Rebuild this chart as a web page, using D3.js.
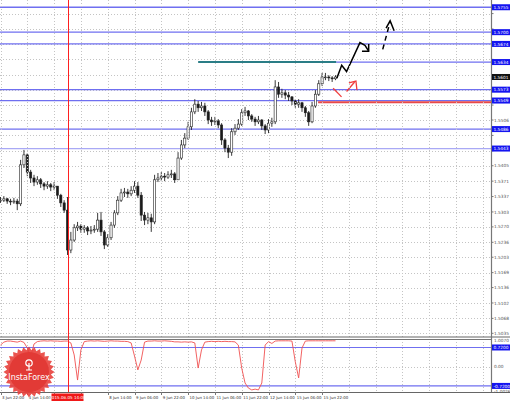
<!DOCTYPE html>
<html><head><meta charset="utf-8">
<script src="https://cdn.jsdelivr.net/npm/d3@7"></script>
<style>body{margin:0;background:#fff}svg{display:block}text{font-family:"DejaVu Sans",sans-serif}</style>
</head><body><svg id="c" width="510" height="402"></svg>
<script>
// ---- DATA (2-hour bars, GBP/USD) ----
const firstOpen = 1.5327;
const closes = [1.5329,1.5332,1.5327,1.5325,1.5327,1.5321,1.5407,1.5429,1.5391,1.5378,
1.5369,1.5374,1.5365,1.5360,1.5363,1.5358,1.5360,1.5340,1.5323,1.5307,
1.5219,1.5241,1.5268,1.5272,1.5265,1.5268,1.5261,1.5263,1.5265,1.5285,
1.5259,1.5230,1.5246,1.5274,1.5301,1.5329,1.5345,1.5347,1.5343,1.5351,
1.5360,1.5340,1.5296,1.5285,1.5290,1.5281,1.5374,1.5378,1.5382,1.5380,
1.5385,1.5387,1.5374,1.5422,1.5451,1.5466,1.5491,1.5524,1.5541,1.5533,
1.5537,1.5524,1.5506,1.5502,1.5504,1.5495,1.5462,1.5444,1.5435,1.5480,
1.5488,1.5497,1.5522,1.5526,1.5515,1.5508,1.5502,1.5506,1.5493,1.5484,
1.5499,1.5502,1.5579,1.5563,1.5566,1.5561,1.5557,1.5548,1.5541,1.5544,
1.5533,1.5522,1.5502,1.5537,1.5563,1.5586,1.5601,1.5601,1.5599,1.5597,1.5601];
const highs = [1.5336,1.5338,1.5334,1.5332,1.5334,1.5332,1.5418,1.5440,1.5433,1.5396,
1.5385,1.5382,1.5378,1.5369,1.5371,1.5367,1.5369,1.5360,1.5343,1.5329,
1.5336,1.5259,1.5276,1.5281,1.5276,1.5274,1.5272,1.5272,1.5274,1.5301,
1.5303,1.5263,1.5254,1.5281,1.5307,1.5338,1.5354,1.5356,1.5354,1.5360,
1.5371,1.5369,1.5347,1.5303,1.5301,1.5299,1.5385,1.5389,1.5391,1.5389,
1.5393,1.5396,1.5391,1.5435,1.5462,1.5477,1.5502,1.5533,1.5552,1.5548,
1.5546,1.5544,1.5528,1.5513,1.5513,1.5508,1.5499,1.5466,1.5451,1.5488,
1.5497,1.5508,1.5530,1.5535,1.5528,1.5519,1.5513,1.5515,1.5508,1.5497,
1.5508,1.5511,1.5594,1.5590,1.5575,1.5572,1.5568,1.5559,1.5552,1.5552,
1.5546,1.5537,1.5526,1.5546,1.5572,1.5594,1.5610,1.5610,1.5605,1.5603,1.5605];
const lows = [1.5323,1.5325,1.5321,1.5318,1.5321,1.5307,1.5316,1.5400,1.5382,1.5367,
1.5360,1.5363,1.5356,1.5351,1.5354,1.5349,1.5351,1.5332,1.5314,1.5301,
1.5208,1.5212,1.5237,1.5261,1.5257,1.5257,1.5252,1.5254,1.5257,1.5259,
1.5250,1.5221,1.5226,1.5241,1.5268,1.5296,1.5325,1.5336,1.5334,1.5338,
1.5345,1.5334,1.5283,1.5274,1.5276,1.5259,1.5276,1.5369,1.5371,1.5371,
1.5376,1.5378,1.5367,1.5391,1.5418,1.5444,1.5462,1.5484,1.5519,1.5524,
1.5526,1.5515,1.5497,1.5493,1.5495,1.5488,1.5451,1.5435,1.5422,1.5427,
1.5473,1.5484,1.5493,1.5515,1.5506,1.5502,1.5493,1.5497,1.5484,1.5475,
1.5477,1.5491,1.5497,1.5555,1.5555,1.5552,1.5548,1.5539,1.5533,1.5533,
1.5524,1.5513,1.5493,1.5499,1.5533,1.5559,1.5581,1.5594,1.5592,1.5590,1.5594];
const indicator = [0.81,0.92,0.96,0.96,0.94,0.92,0.96,0.91,0.70,0.37,
0.85,0.94,0.96,0.97,0.96,0.97,0.96,0.96,0.95,0.96,
0.96,0.89,0.44,-0.50,0.63,0.94,0.96,0.97,0.96,0.97,
0.96,0.95,0.96,0.97,0.96,0.96,0.95,0.95,0.94,0.89,
0.40,-0.12,0.25,0.92,0.96,0.96,0.97,0.96,0.96,0.97,
0.96,0.95,0.93,0.93,0.92,0.93,0.92,0.93,0.89,-0.05,
0.63,0.92,0.94,0.95,0.94,0.95,0.94,0.95,0.94,0.94,
0.93,0.81,-0.05,-0.61,-0.80,-0.87,-0.84,-0.87,-0.61,0.81,
0.94,0.87,0.96,0.97,0.97,0.97,0.97,0.96,0.18,-0.42,
0.70,0.96,0.97,0.97,0.97,0.97,0.97,0.97,0.97,0.97,0.97];
const timeLabels = ["3 Jun 22:00","4 Jun 14:00","5 Jun 06:00","5 Jun 22:00","8 Jun 14:00","9 Jun 06:00","9 Jun 22:00","10 Jun 14:00","11 Jun 06:00","11 Jun 22:00","12 Jun 14:00","15 Jun 06:00","15 Jun 22:00"];
const barsPerLabel = 8;
const markerBar = 20;
const markerLabel = "2015.06.05 14:00";
const priceTicks = [1.5741,1.5707,1.5674,1.5640,1.5606,1.5573,1.5539,1.5506,1.5472,1.5438,1.5405,1.5371,1.5337,1.5303,1.5270,1.5236,1.5203,1.5169,1.5136,1.5102,1.5068,1.5035];
const levelPrices = [1.5755,1.5700,1.5674,1.5634,1.5573,1.5549,1.5486,1.5443];
const levelFrom   = [null,null,null,100.2,null,null,null,null];
const trendSeg = {from:59, to:100.2, price:1.5634};
const supportSeg = {from:94.8, price:1.5545};
const fcSolid = [[100.4,1.5598],[101.85,1.5627],[103.3,1.5613],[107.3,1.5677],[108.8,1.5671],[109.9,1.5658]];
const fcSolidHead = [[109.9,1.5674],[109.9,1.5658],[107.9,1.5658]];
const fcDashed = [[114.1,1.5662],[116.3,1.5723]];
const fcDashedHead = [[115.1,1.5709],[116.3,1.5725],[117.5,1.5703]];
const fcRed1 = [[99.3,1.5576],[101.8,1.5557]];
const fcRed2 = [[103.3,1.5569],[105.7,1.5590]];
const fcRedHead = [[104.0,1.5588],[106.1,1.5592],[106.4,1.5572]];
const indTicks = [{v:1.0,t:"1.0070"},{v:0,t:"0.00"},{v:-0.93,t:"-1.0026"}];
const indLevels = [0.72,-0.72];
const indLevelLabels = ["0.7200","-0.7200"];

// ---- DRAW ----
const svg = d3.select("#c");
const W = 510, axisX = 491.5, mainBottom = 336.5, indTop = 339.5, indBottom = 392;
const x = d3.scaleLinear().domain([0,100]).range([0.5,335.5]);
const y = d3.scaleLinear().domain([1.50291,1.5771]).range([336,0]);
const yi = d3.scaleLinear().domain([-1,1]).range([393.4,340]);
const fmt = d3.format(".4f");

svg.append("rect").attr("width",W).attr("height",402).attr("fill","#fff");

const main = svg.append("g");
svg.append("clipPath").attr("id","cm").append("rect").attr("x",0).attr("y",0).attr("width",axisX).attr("height",mainBottom);
const mg = main.append("g").attr("clip-path","url(#cm)");

// grid
mg.selectAll("line.gy").data(priceTicks).join("line")
  .attr("x1",0).attr("x2",axisX).attr("y1",d=>Math.round(y(d))+0.5).attr("y2",d=>Math.round(y(d))+0.5)
  .attr("stroke","#c4c4c4").attr("stroke-dasharray","1,2");
const gridX = d3.range(0, 19).map(k=>x(k*barsPerLabel)).filter(v=>v<axisX);
svg.selectAll("line.gx").data(gridX).join("line")
  .attr("x1",d=>Math.round(d)+0.5).attr("x2",d=>Math.round(d)+0.5).attr("y1",0).attr("y2",indBottom)
  .attr("stroke","#c4c4c4").attr("stroke-dasharray","1,2");

// levels
levelPrices.forEach((p,i)=>{
  mg.append("line").attr("x1",levelFrom[i]==null?0:x(levelFrom[i])).attr("x2",axisX)
    .attr("y1",y(p)).attr("y2",y(p))
    .attr("stroke", i===levelPrices.length-1 ? "#a9a9f5" : "#6f6ff0").attr("stroke-width",1.3);
});
mg.append("line").attr("x1",x(trendSeg.from)).attr("x2",x(trendSeg.to)).attr("y1",y(trendSeg.price)).attr("y2",y(trendSeg.price))
  .attr("stroke","#2a7d86").attr("stroke-width",2);
mg.append("line").attr("x1",x(supportSeg.from)).attr("x2",axisX).attr("y1",y(supportSeg.price)).attr("y2",y(supportSeg.price))
  .attr("stroke","#e84a4a").attr("stroke-width",2);

// candles
const bars = closes.map((c,i)=>({i, o: i===0?firstOpen:closes[i-1], c, h: highs[i], l: lows[i]}));
const cg = mg.append("g");
cg.selectAll("line.w").data(bars).join("line")
  .attr("x1",d=>x(d.i)).attr("x2",d=>x(d.i)).attr("y1",d=>y(d.h)).attr("y2",d=>y(d.l))
  .attr("stroke","#222").attr("stroke-width",0.9);
cg.selectAll("rect").data(bars).join("rect")
  .attr("x",d=>x(d.i)-1.1).attr("width",2.2)
  .attr("y",d=>y(Math.max(d.o,d.c))).attr("height",d=>Math.max(0.8,Math.abs(y(d.o)-y(d.c))))
  .attr("fill",d=>d.c>=d.o?"#fff":"#1a1a1a").attr("stroke","#222").attr("stroke-width",0.6);

// forecasts
const ln = d3.line().x(d=>x(d[0])).y(d=>y(d[1]));
mg.append("path").attr("d",ln(fcSolid)).attr("fill","none").attr("stroke","#000").attr("stroke-width",1.5);
mg.append("path").attr("d",ln(fcSolidHead)).attr("fill","none").attr("stroke","#000").attr("stroke-width",1.5);
mg.append("path").attr("d",ln(fcDashed)).attr("fill","none").attr("stroke","#000").attr("stroke-width",1.5).attr("stroke-dasharray","5,4");
mg.append("path").attr("d",ln(fcDashedHead)).attr("fill","none").attr("stroke","#000").attr("stroke-width",1.5);
[fcRed1,fcRed2,fcRedHead].forEach(s=>mg.append("path").attr("d",ln(s)).attr("fill","none").attr("stroke","#f03c3c").attr("stroke-width",1.3));

// indicator panel
svg.append("line").attr("x1",0).attr("x2",W).attr("y1",mainBottom+0.5).attr("y2",mainBottom+0.5).attr("stroke","#666").attr("stroke-width",1.2);
svg.append("line").attr("x1",0).attr("x2",axisX).attr("y1",indTop).attr("y2",indTop).attr("stroke","#777").attr("stroke-width",1);
svg.append("line").attr("x1",0).attr("x2",W).attr("y1",indBottom+0.5).attr("y2",indBottom+0.5).attr("stroke","#666").attr("stroke-width",1.2);
svg.append("line").attr("x1",0).attr("x2",axisX).attr("y1",Math.round(yi(0))+0.5).attr("y2",Math.round(yi(0))+0.5).attr("stroke","#c4c4c4").attr("stroke-dasharray","1,2");
indLevels.forEach(v=>svg.append("line").attr("x1",0).attr("x2",axisX).attr("y1",yi(v)).attr("y2",yi(v)).attr("stroke","#6f6ff0").attr("stroke-width",1.2));
svg.append("path").datum(indicator).attr("d",d3.line().x((d,i)=>x(i)).y(d=>yi(d)))
  .attr("fill","none").attr("stroke","#f05050").attr("stroke-width",0.9);

// axis line
svg.append("line").attr("x1",axisX).attr("x2",axisX).attr("y1",0).attr("y2",indBottom).attr("stroke","#777").attr("stroke-width",1.2);

// price labels (ticks hidden where a box label sits, as the platform does)
const boxYs = levelPrices.map(p=>y(p)).concat([y(closes[closes.length-1])]);
const visibleTicks = priceTicks.filter(t=>boxYs.every(b=>Math.abs(y(t)-b)>6.5));
const lab = svg.append("g").attr("font-size",4.3);
lab.selectAll("text.pt").data(visibleTicks).join("text")
  .attr("x",494).attr("y",d=>y(d)+1.6).attr("fill","#555").text(d=>fmt(d));
lab.selectAll("line.pt").data(priceTicks).join("line")
  .attr("x1",axisX).attr("x2",axisX+2).attr("y1",d=>y(d)).attr("y2",d=>y(d)).attr("stroke","#777");
lab.selectAll("text.it").data(indTicks).join("text")
  .attr("x",494).attr("y",d=>yi(d.v)+1.6).attr("fill","#555").text(d=>d.t);
function box(v, yy, fill){
  lab.append("rect").attr("x",axisX+0.5).attr("y",yy-3).attr("width",18).attr("height",6).attr("fill",fill);
  lab.append("text").attr("x",493.5).attr("y",yy+1.6).attr("fill","#fff").text(v);
}
levelPrices.forEach(p=>box(fmt(p), y(p), "#1414f0"));
box(fmt(closes[closes.length-1]), y(closes[closes.length-1]), "#111");
indLevels.forEach((v,i)=>box(indLevelLabels[i], yi(v), "#1414f0"));

// time labels (the one under the marker box is hidden)
const markerX = x(markerBar);
const shownTimes = timeLabels.map((t,i)=>({t,i})).filter(d=>{const lx=x(d.i*barsPerLabel)+1.5; return lx < markerX-17 || lx > markerX+15;});
const tl = svg.append("g").attr("font-size",3.9).attr("fill","#333").attr("font-family","Liberation Sans, Arial, sans-serif");
tl.selectAll("text").data(shownTimes).join("text")
  .attr("x",d=>x(d.i*barsPerLabel)+1.5).attr("y",398.8).text(d=>d.t);
tl.selectAll("line").data(timeLabels).join("line")
  .attr("x1",(d,i)=>Math.round(x(i*barsPerLabel))+0.5).attr("x2",(d,i)=>Math.round(x(i*barsPerLabel))+0.5)
  .attr("y1",indBottom).attr("y2",indBottom+3).attr("stroke","#777");

// red vertical marker
svg.append("line").attr("x1",Math.round(markerX)+0.5).attr("x2",Math.round(markerX)+0.5).attr("y1",0).attr("y2",indBottom)
  .attr("stroke","#ff2020").attr("stroke-width",1);
svg.append("rect").attr("x",markerX-16).attr("y",indBottom+1.5).attr("width",32).attr("height",7.5).attr("fill","#f01818");
svg.append("text").attr("x",markerX).attr("y",398.8).attr("text-anchor","middle").attr("font-size",4.1).attr("fill","#fff")
  .attr("font-family","Liberation Sans, Arial, sans-serif").text(markerLabel);

// InstaForex watermark
const lg = svg.append("g").attr("transform","translate(29,372)");
const nSp = 28;
const star = d3.range(nSp*2).map(k=>{const a=k*Math.PI/nSp, r=k%2?22:25.5; return [r*Math.sin(a), -r*Math.cos(a)];});
lg.append("path").attr("d","M"+star.map(p=>p.join(",")).join("L")+"Z").attr("fill","#e8413c").attr("opacity",0.9);
lg.append("circle").attr("r",20).attr("fill","#e23a36");
lg.append("circle").attr("cy",-9).attr("r",3.2).attr("fill","none").attr("stroke","#fff").attr("stroke-width",1.2);
lg.append("line").attr("x1",0).attr("x2",0).attr("y1",-9).attr("y2",-2).attr("stroke","#fff").attr("stroke-width",1.2);
lg.append("line").attr("x1",-3).attr("x2",3).attr("y1",-2).attr("y2",-2).attr("stroke","#fff").attr("stroke-width",1);
lg.append("text").attr("y",8).attr("text-anchor","middle").attr("font-size",8).attr("fill","#fff").attr("font-family","Arial, Liberation Sans, sans-serif").text("InstaForex");
</script></body></html>
